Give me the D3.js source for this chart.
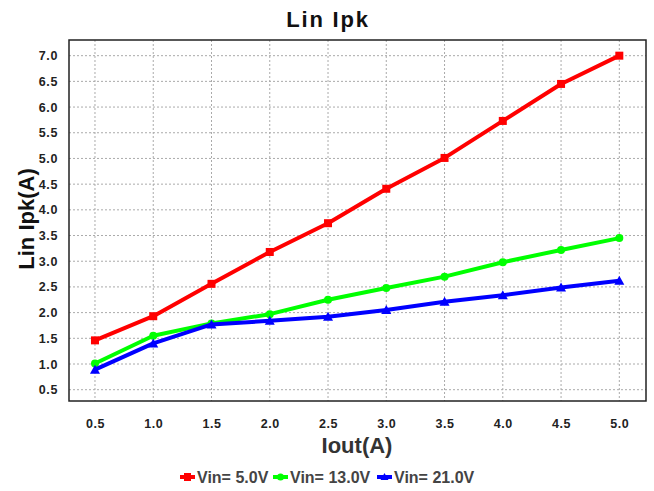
<!DOCTYPE html>
<html><head><meta charset="utf-8">
<script src="https://cdn.jsdelivr.net/npm/d3@7"></script>
<style>body{margin:0;background:#fff;} text{font-family:"Liberation Sans",Arial,sans-serif;}</style>
</head><body>
<svg id="c" width="654" height="491"></svg>
<script>
const xValues = [0.5,1.0,1.5,2.0,2.5,3.0,3.5,4.0,4.5,5.0];
const seriesNames = ["Vin= 5.0V","Vin= 13.0V","Vin= 21.0V"];
const seriesColors = ["#ff0000","#00ff00","#0000ff"];
const vin5 = [1.46,1.93,2.56,3.18,3.74,4.41,5.01,5.73,6.45,7.0];
const vin13 = [1.01,1.55,1.79,1.97,2.25,2.48,2.70,2.98,3.22,3.45];
const vin21 = [0.89,1.40,1.77,1.84,1.92,2.05,2.21,2.34,2.49,2.62];
const xTicks = [0.5,1.0,1.5,2.0,2.5,3.0,3.5,4.0,4.5,5.0];
const yTicks = [0.5,1.0,1.5,2.0,2.5,3.0,3.5,4.0,4.5,5.0,5.5,6.0,6.5,7.0];
const series = [vin5, vin13, vin21];

const svg = d3.select("#c");
const L=69, R=646, T=40, B=401;
const x = d3.scaleLinear().domain([0.277,5.229]).range([L,R]);
const y = d3.scaleLinear().domain([0.28,7.305]).range([B,T]);

// grid
const g = svg.append("g");
g.selectAll("line.v").data(xTicks).join("line")
  .attr("x1",d=>x(d)).attr("x2",d=>x(d)).attr("y1",T).attr("y2",B)
  .attr("stroke","#aaa").attr("stroke-dasharray","2,2").attr("stroke-width",1);
g.selectAll("line.h").data(yTicks).join("line")
  .attr("y1",d=>y(d)).attr("y2",d=>y(d)).attr("x1",L).attr("x2",R)
  .attr("stroke","#aaa").attr("stroke-dasharray","2,2").attr("stroke-width",1);

// frame
svg.append("rect").attr("x",L).attr("y",T).attr("width",R-L).attr("height",B-T)
  .attr("fill","none").attr("stroke","#222").attr("stroke-width",1.5);

// axes (labels only)
const xa = svg.append("g").attr("transform",`translate(0,${B})`)
  .call(d3.axisBottom(x).tickValues(xTicks).tickFormat(d3.format(".1f")).tickSize(0).tickPadding(18.5));
const ya = svg.append("g").attr("transform",`translate(${L},0)`)
  .call(d3.axisLeft(y).tickValues(yTicks).tickFormat(d3.format(".1f")).tickSize(0).tickPadding(11));
[xa,ya].forEach(a=>{a.select(".domain").remove();
  a.selectAll("text").attr("font-size","12.5px").attr("font-weight","bold").attr("fill","#222")
   .attr("font-family","Liberation Sans, Arial, sans-serif").attr("letter-spacing","0.6px");});

// lines
const line = d3.line().x((d,i)=>x(xValues[i])).y(d=>y(d));
series.forEach((s,k)=>{
  svg.append("path").datum(s).attr("d",line).attr("fill","none")
    .attr("stroke",seriesColors[k]).attr("stroke-width",4).attr("stroke-linejoin","round");
  const m = svg.append("g");
  s.forEach((v,i)=>{
    const cx=x(xValues[i]), cy=y(v);
    if(k===0) m.append("rect").attr("x",cx-4).attr("y",cy-4).attr("width",8).attr("height",8).attr("fill",seriesColors[k]);
    else if(k===1) m.append("circle").attr("cx",cx).attr("cy",cy).attr("r",4).attr("fill",seriesColors[k]);
    else m.append("path").attr("d",`M${cx},${cy-5}L${cx+5},${cy+4}L${cx-5},${cy+4}Z`).attr("fill",seriesColors[k]);
  });
});

// title and labels
svg.append("text").attr("x",328).attr("y",27).attr("text-anchor","middle")
  .attr("font-size","22px").attr("font-weight","bold").attr("fill","#111").attr("letter-spacing","1.8px").text("Lin Ipk");
svg.append("text").attr("x",357).attr("y",453).attr("text-anchor","middle")
  .attr("font-size","22px").attr("font-weight","bold").attr("fill","#333").text("Iout(A)");
svg.append("text").attr("transform","translate(34,219) rotate(-90)").attr("text-anchor","middle")
  .attr("font-size","22px").attr("font-weight","bold").attr("fill","#111").text("Lin Ipk(A)");

// legend
const legX = [180,273,377];
seriesNames.forEach((n,k)=>{
  const lx=legX[k], ly=477;
  svg.append("line").attr("x1",lx).attr("x2",lx+15).attr("y1",ly).attr("y2",ly)
    .attr("stroke",seriesColors[k]).attr("stroke-width",4);
  if(k===0) svg.append("rect").attr("x",lx+4).attr("y",ly-4).attr("width",7).attr("height",8).attr("fill",seriesColors[k]);
  else if(k===1) svg.append("circle").attr("cx",lx+7.5).attr("cy",ly).attr("r",3.5).attr("fill",seriesColors[k]);
  else svg.append("path").attr("d",`M${lx+7.5},${ly-4}L${lx+11.5},${ly+3}L${lx+3.5},${ly+3}Z`).attr("fill",seriesColors[k]);
  svg.append("text").attr("x",lx+17).attr("y",ly+5.5).attr("font-size","16px").attr("font-weight","bold")
    .attr("fill","#444").text(n);
});
</script>
</body></html>
